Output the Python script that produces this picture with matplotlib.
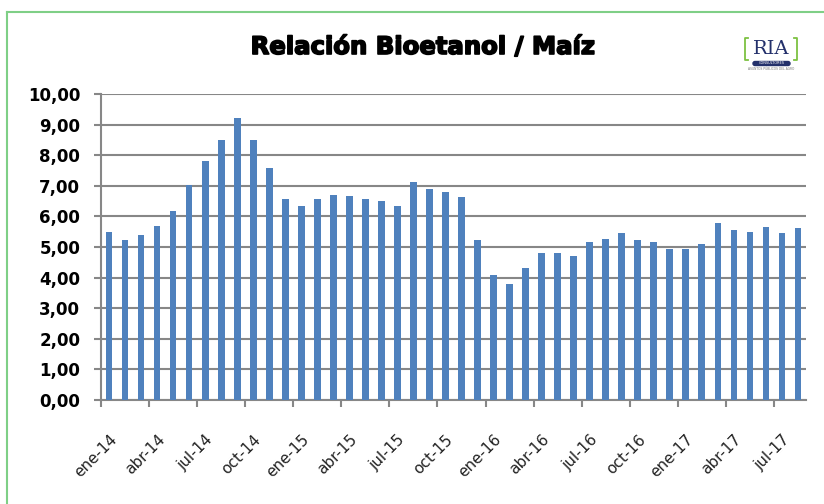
import numpy as np
import matplotlib.pyplot as plt
import matplotlib.patheffects as pe
from matplotlib.lines import Line2D
from matplotlib.patches import FancyBboxPatch

# Datos: relación bioetanol / maíz, mensual ene-14 a ago-17
meses = ['ene', 'feb', 'mar', 'abr', 'may', 'jun',
         'jul', 'ago', 'sep', 'oct', 'nov', 'dic']
anios = ['14', '15', '16', '17']
etiquetas = [f'{m}-{a}' for a in anios for m in meses][:44]

relacion = [5.50, 5.22, 5.39, 5.68, 6.18, 7.02, 7.82, 8.50, 9.23, 8.50, 7.59, 6.58,
            6.34, 6.58, 6.69, 6.68, 6.57, 6.51, 6.34, 7.13, 6.90, 6.79, 6.62, 5.22,
            4.09, 3.80, 4.32, 4.82, 4.82, 4.71, 5.16, 5.27, 5.45, 5.22, 5.16, 4.93,
            4.93, 5.10, 5.78, 5.55, 5.50, 5.66, 5.45, 5.61]

W, H = 824, 504
fig = plt.figure(figsize=(W / 100, H / 100), dpi=100)
ax = fig.add_axes([101 / W, 1 - 400 / H, (806 - 101) / W, (400 - 94) / H])

x = np.arange(len(relacion))
ax.bar(x, relacion, width=0.42, color='#4F81BD', zorder=3)

gris = '#878787'
ax.set_xlim(-0.5, len(relacion) - 0.5)
ax.set_ylim(0, 10)
ax.set_yticks(np.arange(0, 11, 1))
ax.set_yticklabels([f'{v:.2f}'.replace('.', ',') for v in np.arange(0, 11, 1)],
                   fontsize=12, fontweight='bold', color='black')
ax.yaxis.grid(True, color=gris, linewidth=1.5, zorder=0)

# ticks mayores en los bordes de categoría, etiquetas cada 3 meses
ax.set_xticks(np.arange(-0.5, len(relacion), 3))
ax.set_xticklabels([])
ax.set_xticks(x[::3], [etiquetas[i] for i in x[::3]], minor=True)
ax.tick_params(axis='x', which='major', length=5, color=gris, width=1.5)
ax.tick_params(axis='x', which='minor', length=0, pad=23, labelsize=11, labelcolor='#222222')
for lbl in ax.get_xticklabels(minor=True):
    lbl.set_rotation(45)
    lbl.set_ha('right')
    lbl.set_rotation_mode('anchor')
ax.tick_params(axis='y', length=5, color=gris, width=1.5, pad=10)

for s in ['top', 'right']:
    ax.spines[s].set_visible(False)
for s in ['left', 'bottom']:
    ax.spines[s].set_color(gris)
    ax.spines[s].set_linewidth(1.5)

fig.text(422 / W, 1 - 47 / H, 'Relación Bioetanol / Maíz', ha='center', va='center',
         fontsize=17.5, fontweight='heavy', color='black',
         path_effects=[pe.withStroke(linewidth=1.2, foreground='black')])

# marco verde
verde = '#7fcf86'
fig.add_artist(Line2D([7 / W, 7 / W], [0, 1 - 12 / H], color=verde, lw=1.5))
fig.add_artist(Line2D([7 / W, 1], [1 - 12 / H, 1 - 12 / H], color=verde, lw=1.5))

# logo RIA
lg = fig.add_axes([740 / W, 1 - 76 / H, 62 / W, 40 / H])
lg.set_xlim(0, 62)
lg.set_ylim(40, 0)
lg.axis('off')
lg.text(31, 13, 'RIA', ha='center', va='center', fontsize=14,
        family='DejaVu Serif', color='#23306b')
lg.plot([8, 5, 5, 8], [2, 2, 24, 24], color='#7dc242', lw=1.3)
lg.plot([54, 57, 57, 54], [2, 2, 24, 24], color='#7dc242', lw=1.3)
lg.add_patch(FancyBboxPatch((13, 25.5), 37, 4, boxstyle='round,pad=0,rounding_size=2',
                            color='#23306b'))
lg.text(31.5, 27.5, 'CONSULTORES', ha='center', va='center', fontsize=2.5, color='white')
lg.text(31.5, 33, 'ASUNTOS PÚBLICOS DEL AGRO', ha='center', va='center', fontsize=2.2,
        color='#777777')

fig.savefig('out.png', dpi=100)
